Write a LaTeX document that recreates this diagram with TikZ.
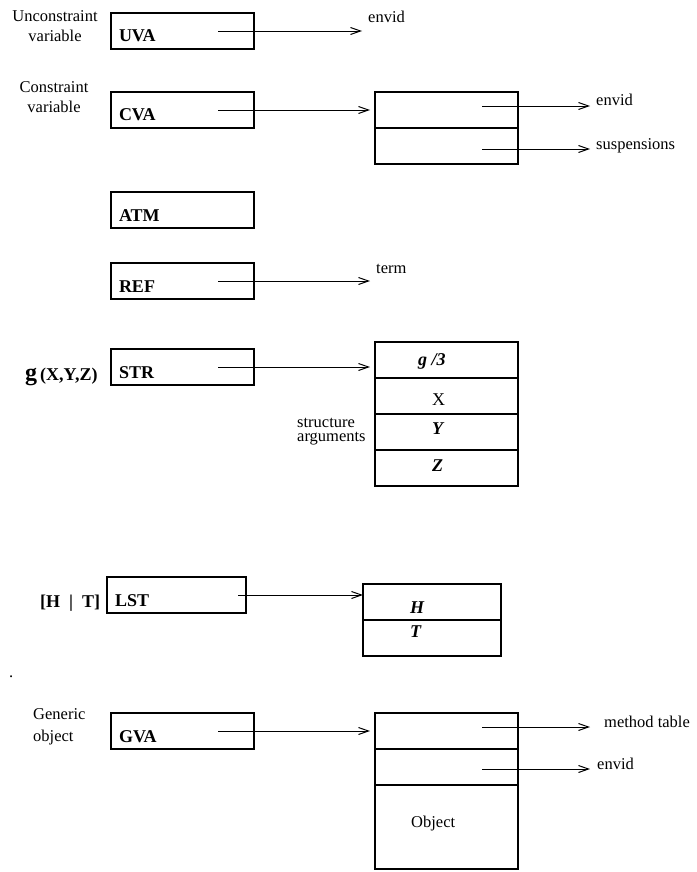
\documentclass[tikz,border=0pt]{standalone}
\usepackage{fontspec}
\setmainfont{Liberation Serif}
\usetikzlibrary{arrows.meta,positioning,calc}

\begin{document}
\begin{tikzpicture}[
    x=1pt, y=-1pt,
    font=\fontsize{16.5}{20.5}\selectfont,
    tagbox/.style={draw, line width=1.1pt, outer sep=0pt, anchor=north west, minimum width=143pt, minimum height=36pt, text width=127pt, align=left, text height=26pt, text depth=4pt, inner xsep=8pt, inner ysep=3pt, font=\fontsize{18}{20}\selectfont\bfseries},
    cell/.style={draw, line width=1.1pt, outer sep=0pt, minimum width=143pt, minimum height=36pt, inner sep=0pt},
    ptr/.style={-{Straight Barb[length=10pt,width=7pt,line width=1pt]}, line width=0.9pt},
    field/.style={anchor=base west, inner sep=0pt, font=\fontsize{18}{20}\selectfont\bfseries\itshape},
    note/.style={anchor=base west, inner sep=0pt}
]
\useasboundingbox (0,0) rectangle (696,872);

% tagged words
\node[tagbox] (uva) at (111,13) {UVA};
\node[tagbox] (cva) at (111,92) {CVA};
\node[tagbox] (atm) at (111,192) {ATM};
\node[tagbox] (ref) at (111,263) {REF};
\node[tagbox] (str) at (111,349) {STR};
\node[tagbox, minimum width=139pt, text width=123pt] (lst) at (107,577) {LST};
\node[tagbox] (gva) at (111,713) {GVA};

% captions on the left (base = last line)
\node[align=center, anchor=base, inner sep=0pt] (ucap) at (55,42) {Unconstraint\\variable};
\node[align=center, anchor=base, inner sep=0pt] (ccap) at (54,113) {Constraint\\variable};
\node[note, font=\fontsize{18}{20}\selectfont\bfseries] (scap) at (25,380) {{\fontsize{24}{24}\selectfont g}\,(X,Y,Z)};
\node[note, font=\fontsize{18}{20}\selectfont\bfseries] (lcap) at (40,607) {[H\enspace|\enspace T]};
\node[note] (dot) at (9,677) {.};
\node[note, align=left, font=\fontsize{16.5}{22}\selectfont] (gcap) at (33,741) {Generic\\object};

% attributed variable
\node[cell, anchor=north west] (c1) at (375,92) {};
\node[cell, below=0pt of c1] (c2) {};

% structure
\node[cell, anchor=north west] (s1) at (375,342) {};
\node[cell, below=0pt of s1] (s2) {};
\node[cell, below=0pt of s2] (s3) {};
\node[cell, below=0pt of s3] (s4) {};
\node[field] at (418,365) {g /3};
\node[note, font=\fontsize{18}{20}\selectfont] at (432,405) {X};
\node[field] at (432,434) {Y};
\node[field] at (432,471) {Z};
\node[note, align=left, font=\fontsize{16.5}{14}\selectfont] (sarg) at (297,441) {structure\\arguments};

% list
\node[cell, anchor=north west, minimum width=138pt] (l1) at (363,584) {};
\node[cell, below=0pt of l1, minimum width=138pt] (l2) {};
\node[field] at (410,613) {H};
\node[field] at (410,637) {T};

% generic object
\node[cell, anchor=north west] (g1) at (375,713) {};
\node[cell, below=0pt of g1] (g2) {};
\node[cell, below=0pt of g2, minimum height=84pt] (g3) {};
\node[note] at (411,827) {Object};

% free ends
\coordinate (utip) at (362,31);
\coordinate (rtip) at (370,281);
\coordinate (c1tip) at ([xshift=72pt,yshift=4pt]c1.east);
\coordinate (c2tip) at ([xshift=72pt,yshift=-3pt]c2.east);
\coordinate (g1tip) at ([xshift=72pt,yshift=4pt]g1.east);
\coordinate (g2tip) at ([xshift=72pt,yshift=-2pt]g2.east);

\node[note] at ([xshift=6pt,yshift=8pt]utip) {envid};
\node[note] at ([xshift=6pt,yshift=8pt]rtip) {term};
\node[note] at ([xshift=6pt]c1tip) {envid};
\node[note] at ([xshift=6pt]c2tip) {suspensions};
\node[note] at ([xshift=14pt]g1tip) {method table};
\node[note] at ([xshift=7pt]g2tip) {envid};

% pointers
\draw[ptr] ([xshift=-36pt]uva.east) -- (utip);
\draw[ptr, shorten >=5pt] ([xshift=-36pt]cva.east) -- (cva.east -| c1.west);
\draw[ptr] ([xshift=-36pt]ref.east) -- (rtip);
\draw[ptr, shorten >=5pt] ([xshift=-36pt]str.east) -- (str.east -| s1.west);
\draw[ptr] ([xshift=-8pt]lst.east) -- (lst.east -| l1.west);
\draw[ptr, shorten >=5pt] ([xshift=-36pt]gva.east) -- (gva.east -| g1.west);
\draw[ptr] ([xshift=-36pt,yshift=4pt]c1.east) -- (c1tip);
\draw[ptr] ([xshift=-36pt,yshift=-3pt]c2.east) -- (c2tip);
\draw[ptr] ([xshift=-36pt,yshift=4pt]g1.east) -- (g1tip);
\draw[ptr] ([xshift=-36pt,yshift=-2pt]g2.east) -- (g2tip);
\end{tikzpicture}
\end{document}
